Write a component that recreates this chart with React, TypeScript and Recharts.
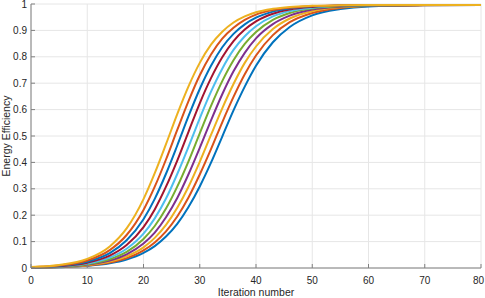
import { CartesianGrid, Line, LineChart, XAxis, YAxis } from 'recharts';

const iterations = [0, 5, 10, 14, 17, 20, 22, 24, 26, 28, 30, 32, 34, 36, 38, 40, 43, 46, 50, 55, 60, 70, 80];

// curves from right (first plotted) to left (last plotted)
const run1 = [0.0011, 0.003, 0.0082, 0.0179, 0.0322, 0.0571, 0.0829, 0.119, 0.167, 0.231, 0.309, 0.399, 0.498, 0.597, 0.687, 0.766, 0.855, 0.913, 0.957, 0.981, 0.991, 0.995, 0.996];
const run2 = [0.0012, 0.0034, 0.0093, 0.0207, 0.0376, 0.0668, 0.097, 0.139, 0.195, 0.267, 0.354, 0.45, 0.552, 0.648, 0.734, 0.805, 0.882, 0.931, 0.966, 0.985, 0.992, 0.995, 0.996];
const run3 = [0.0014, 0.0038, 0.0107, 0.0241, 0.044, 0.078, 0.114, 0.163, 0.228, 0.308, 0.402, 0.504, 0.605, 0.697, 0.777, 0.839, 0.905, 0.945, 0.973, 0.988, 0.993, 0.996, 0.996];
const run4 = [0.0015, 0.0044, 0.0124, 0.0283, 0.052, 0.093, 0.134, 0.192, 0.265, 0.355, 0.455, 0.559, 0.658, 0.745, 0.815, 0.87, 0.924, 0.956, 0.979, 0.99, 0.994, 0.996, 0.996];
const run5 = [0.0017, 0.005, 0.0144, 0.0333, 0.061, 0.11, 0.159, 0.225, 0.308, 0.404, 0.51, 0.614, 0.708, 0.787, 0.849, 0.894, 0.94, 0.966, 0.983, 0.991, 0.994, 0.996, 0.996];
const run6 = [0.002, 0.0058, 0.0169, 0.0394, 0.073, 0.13, 0.188, 0.263, 0.356, 0.459, 0.567, 0.668, 0.755, 0.826, 0.878, 0.916, 0.953, 0.973, 0.986, 0.993, 0.995, 0.996, 0.996];
const run7 = [0.0023, 0.0068, 0.02, 0.0469, 0.087, 0.155, 0.222, 0.308, 0.407, 0.516, 0.624, 0.719, 0.798, 0.859, 0.903, 0.934, 0.963, 0.979, 0.989, 0.994, 0.995, 0.996, 0.996];
const run8 = [0.0026, 0.008, 0.0238, 0.0562, 0.105, 0.185, 0.262, 0.357, 0.464, 0.575, 0.678, 0.766, 0.836, 0.887, 0.923, 0.948, 0.971, 0.983, 0.991, 0.994, 0.995, 0.996, 0.996];
const run9 = [0.003, 0.0094, 0.0285, 0.0677, 0.125, 0.22, 0.308, 0.411, 0.523, 0.632, 0.73, 0.809, 0.869, 0.91, 0.94, 0.96, 0.977, 0.986, 0.992, 0.995, 0.996, 0.996, 0.996];
const run10 = [0.0036, 0.0112, 0.0343, 0.0818, 0.15, 0.261, 0.359, 0.469, 0.583, 0.688, 0.777, 0.846, 0.895, 0.93, 0.953, 0.969, 0.982, 0.989, 0.993, 0.995, 0.996, 0.996, 0.996];

const runs = [run1, run2, run3, run4, run5, run6, run7, run8, run9, run10];

const xTicks = [0, 10, 20, 30, 40, 50, 60, 70, 80];
const yTicks = [0, 0.1, 0.2, 0.3, 0.4, 0.5, 0.6, 0.7, 0.8, 0.9, 1];

// matlab default colour order
const colors = ['#0072BD', '#D95319', '#EDB120', '#7E2F8E', '#77AC30', '#4DBEEE', '#A2142F', '#0072BD', '#D95319', '#EDB120'];

const data = iterations.map((it, i) => {
  const row: Record<string, number> = { it };
  runs.forEach((r, j) => {
    row[`run${j + 1}`] = r[i];
  });
  return row;
});

const font = '"Liberation Sans", Arial, Helvetica, sans-serif';
const axisColor = '#808080';
const textColor = '#262626';

const YTick = ({ x, y, payload }: any) => (
  <g>
    <line x1={x + 4} x2={x + 8} y1={y} y2={y} stroke={axisColor} />
    <text x={x} y={y} dy={3.5} textAnchor="end" fontSize={10} fontFamily={font} fill={textColor}>
      {payload.value}
    </text>
  </g>
);

const XTick = ({ x, y, payload }: any) => {
  // last label would run past the right edge, so pull it in a little
  const last = payload.value === xTicks[xTicks.length - 1];
  return (
    <g>
      <line x1={x} x2={x} y1={y} y2={y - 4} stroke={axisColor} />
      <text
        x={last ? x + 3 : x}
        y={y + 16}
        textAnchor={last ? 'end' : 'middle'}
        fontSize={10}
        fontFamily={font}
        fill={textColor}
      >
        {payload.value}
      </text>
    </g>
  );
};

const xLabel = () => (
  <text x={256} y={296} textAnchor="middle" fontSize={10.5} fontFamily={font} fill={textColor}>
    Iteration number
  </text>
);

const yLabel = () => (
  <text x={10} y={136} transform="rotate(-90 10 136)" textAnchor="middle" fontSize={10.5} fontFamily={font} fill={textColor}>
    Energy Efficiency
  </text>
);

export default function App() {
  return (
    <div style={{ position: 'absolute', left: 0, top: 0, background: '#fff' }}>
      <LineChart width={485} height={298} data={data} margin={{ top: 4, right: 4, bottom: 0, left: 0 }}>
        <CartesianGrid stroke="#e6e6e6" />
        <XAxis
          dataKey="it"
          type="number"
          domain={[0, 80]}
          ticks={xTicks}
          interval={0}
          height={30}
          tickSize={0}
          tickMargin={0}
          tickLine={false}
          tick={XTick}
          stroke={axisColor}
          label={xLabel}
        />
        <YAxis
          type="number"
          domain={[0, 1]}
          ticks={yTicks}
          interval={0}
          width={31}
          tickSize={0}
          tickMargin={4}
          tickLine={false}
          tick={YTick}
          stroke={axisColor}
          label={yLabel}
        />
        {runs.map((_, j) => (
          <Line
            key={j}
            type="monotone"
            dataKey={`run${j + 1}`}
            stroke={colors[j]}
            strokeWidth={2}
            dot={false}
            isAnimationActive={false}
          />
        ))}
      </LineChart>
    </div>
  );
}
